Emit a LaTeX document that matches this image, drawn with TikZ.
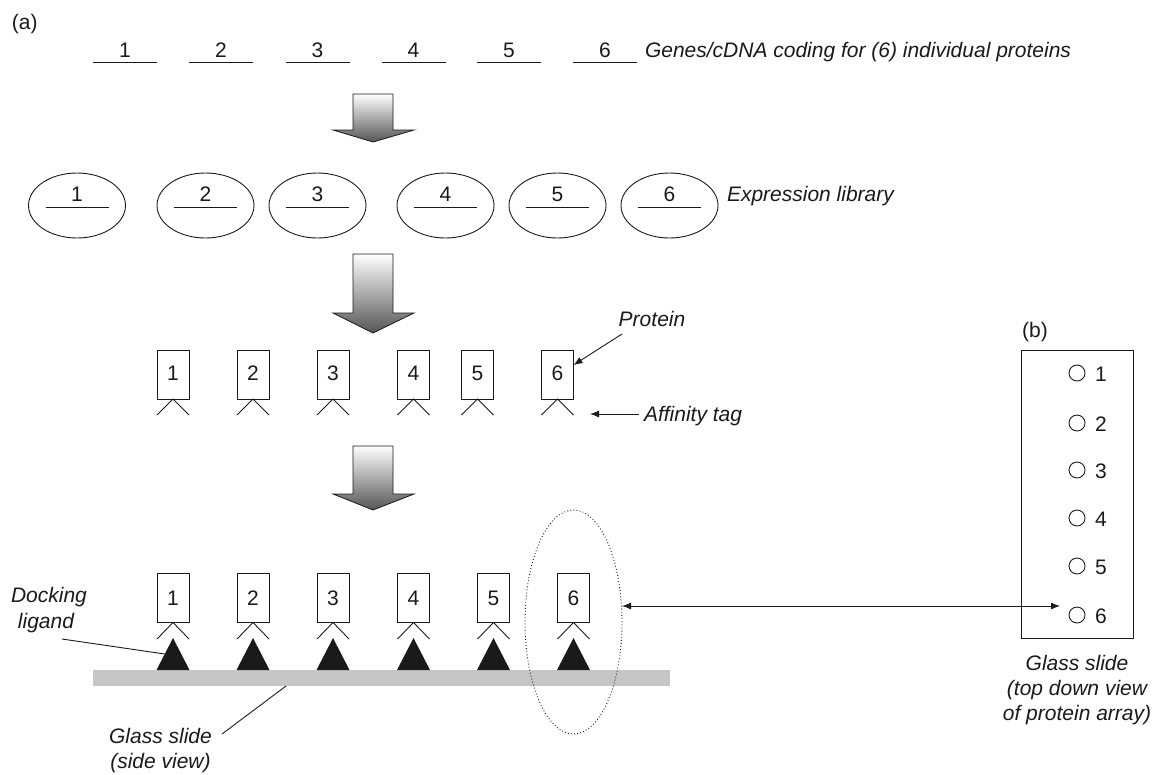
\documentclass[tikz,border=0pt]{standalone}
\usepackage{fontspec}
\setmainfont{Liberation Sans}
\usetikzlibrary{arrows.meta,shapes.geometric}
\definecolor{arrowdark}{HTML}{555555}
\definecolor{slidegray}{HTML}{C5C6C8}
\definecolor{ink}{HTML}{1A1A1A}
\begin{document}
\begin{tikzpicture}[x=1pt,y=-1pt,
  every node/.style={inner sep=0pt, outer sep=0pt, text=ink, font=\fontsize{21}{25}\selectfont},
  lbl/.style={font=\fontsize{21}{25}\selectfont\itshape},
  thin/.style={draw=ink, line width=0.9pt},
  pbox/.style={draw=ink, line width=0.9pt, minimum width=32pt, minimum height=49pt},
  lib/.style={draw=ink, ellipse, line width=0.9pt, minimum width=97pt, minimum height=65pt},
  ptr/.style={draw=ink, line width=0.9pt, -{Latex[length=9pt,width=7pt]}},
  dptr/.style={draw=ink, line width=0.9pt, {Latex[length=9pt,width=7pt]}-{Latex[length=9pt,width=7pt]}},
  bigarrow/.style={draw=ink, line width=0.8pt, top color=white, bottom color=arrowdark},
  spot/.style={draw=ink, circle, line width=0.9pt, minimum size=16pt},
  ring/.style={draw=ink, ellipse, line width=0.9pt, dash pattern=on 0.9pt off 2.2pt, minimum width=97pt, minimum height=224pt},
]
\useasboundingbox (0,0) rectangle (1161,774);

% (a)
\node[anchor=base west] (pa) at (12,29.5) {(a)};

% genes
\foreach \i/\x in {1/125,2/221,3/317.5,4/413.5,5/509,6/605}{
  \draw[thin] (\x-32,62) -- (\x+32,62);
  \node[anchor=base] (g\i) at (\x,57) {\i};
}
\node[lbl,anchor=base west] (genelbl) at (645,57) {Genes/cDNA coding for (6) individual proteins};

% block arrows
\shadedraw[bigarrow] (353,94) -- (393,94) -- (393,130) -- (414,130) -- (373,142) -- (333,130) -- (353,130) -- cycle;
\shadedraw[bigarrow] (353,254) -- (393,254) -- (393,313) -- (414,313) -- (373,333) -- (333,313) -- (353,313) -- cycle;
\shadedraw[bigarrow] (353,446) -- (393,446) -- (393,494) -- (414,494) -- (373,510) -- (333,494) -- (353,494) -- cycle;

% expression library
\foreach \i/\x in {1/77,2/205.5,3/317.5,4/445.5,5/557.5,6/669.5}{
  \node[lib] (e\i) at (\x,205.5) {};
  \draw[thin] (\x-31.5,207) -- (\x+31.5,207);
  \node[anchor=base] (en\i) at (\x,201.5) {\i};
}
\node[lbl,anchor=base west] (liblbl) at (727,201) {Expression library};

% proteins with affinity tags
\foreach \i/\x in {1/173,2/253,3/333,4/413.5,5/477.5,6/557.5}{
  \node[pbox] (p\i) at (\x,374.5) {};
  \node[anchor=base] at (\x,380.5) {\i};
  \draw[thin] (\x-16,415) -- (p\i.south) -- (\x+16,415);
}
\node[lbl,anchor=base] (protlbl) at (652,326) {Protein};
\coordinate (protfrom) at (622,334);
\draw[ptr] (protfrom) -- ([yshift=9.5pt]p6.east);
\node[lbl,anchor=base west] (afflbl) at (644,421) {Affinity tag};
\coordinate (affto) at (590,414);
\draw[ptr] (afflbl.west |- affto) ++(-5,0) -- (affto);

% glass slide side view
\fill[slidegray] (93,670) rectangle (670,686);
\coordinate (slidebot) at (286,686);
\foreach \i/\x in {1/173,2/253,3/333,4/413.5,5/493.5,6/573.5}{
  \node[pbox] (q\i) at (\x,598) {};
  \node[anchor=base] at (\x,605) {\i};
  \draw[thin] (\x-16,639) -- (q\i.south) -- (\x+16,639);
  \fill[ink] (\x,638) -- (\x+16.5,670) -- (\x-16.5,670) -- cycle;
  \coordinate (lig\i) at (\x-8.2,654);
}
\node[ring] (ring6) at (573.5,622) {};

\node[lbl,anchor=base] (dock1) at (49,602) {Docking};
\node[lbl,anchor=base] (dock2) at (46,628) {ligand};
\draw[thin] (62,639) -- (lig1);

\node[lbl,anchor=base] (gs1) at (160.5,743) {Glass slide};
\node[lbl,anchor=base] (gs2) at (160.5,768) {(side view)};
\draw[thin] (222,734) -- (slidebot);

% (b) top-down view
\node[anchor=base] (pb) at (1035,337) {(b)};
\node[draw=ink, line width=0.9pt, minimum width=112pt, minimum height=288pt] (slideB) at (1077,494) {};
\foreach \i/\y in {1/373,2/423,3/470,4/518,5/566,6/615}{
  \node[spot] (s\i) at (1077,\y) {};
  \node[anchor=base] at (1101,\y+8) {\i};
}
\node[lbl,anchor=base] (tg1) at (1077,670) {Glass slide};
\node[lbl,anchor=base] (tg2) at (1077,695) {(top down view};
\node[lbl,anchor=base] (tg3) at (1077,720.5) {of protein array)};

\coordinate (t6) at (1060,606);
\draw[dptr] (ring6.east |- t6) -- (t6);
\end{tikzpicture}
\end{document}
